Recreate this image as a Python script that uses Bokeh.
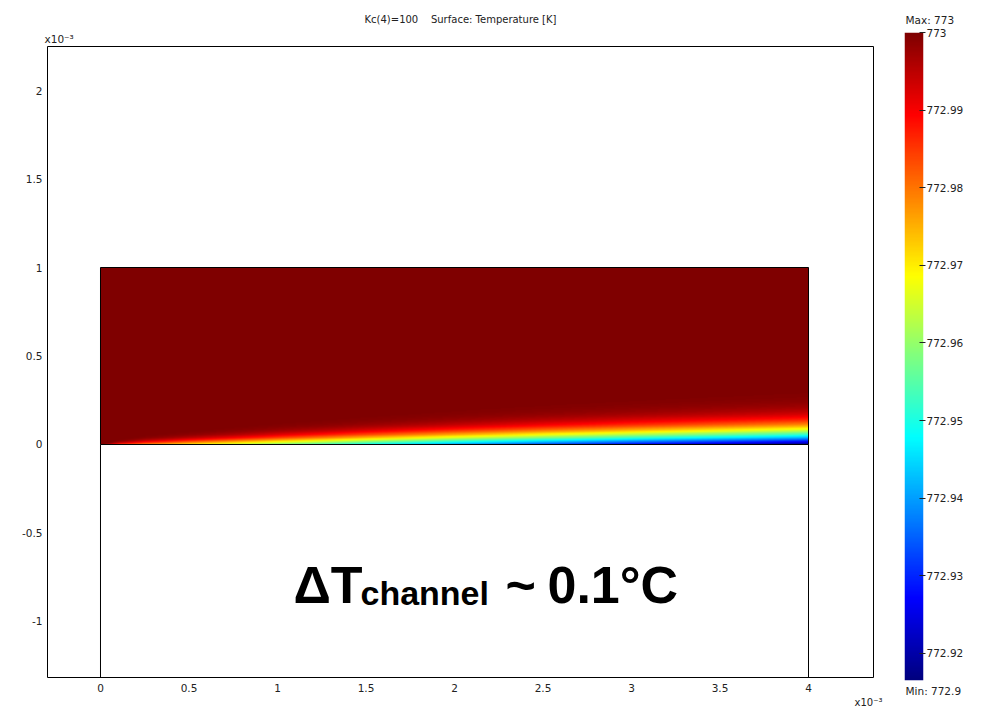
import math
import numpy as np
from bokeh.plotting import figure
from bokeh.layouts import row, column
from bokeh.models import (LinearColorMapper, FixedTicker, NumeralTickFormatter,
                          Range1d, Title)
from bokeh.core.properties import value
from bokeh.embed import file_html
from bokeh.resources import INLINE

# ---------------- data ----------------
title_text = "Kc(4)=100\u00a0\u00a0\u00a0\u00a0Surface: Temperature [K]"
multiplier_text = "x10\u207b\u00b3"
x_ticks = [0, 0.5, 1, 1.5, 2, 2.5, 3, 3.5, 4]
y_ticks = [-1, -0.5, 0, 0.5, 1, 1.5, 2]
cbar_ticks = [772.92, 772.93, 772.94, 772.95, 772.96, 772.97, 772.98, 772.99, 773.0]
t_max = 773.0
t_min = 772.9165          # shown rounded as "Min: 772.9"
max_label = "Max: 773"
min_label = "Min: 772.9"

# channel geometry (x10^-3 m)
channel_x0 = 0.0
channel_x1 = 4.0
channel_y0 = 0.0
channel_y1 = 1.0
lower_domain_bottom = -2.0

# temperature field read along the channel: wall temperature and thermal layer scale
x_st = [0.0, 0.1, 0.25, 0.5, 1.0, 1.5, 2.0, 2.5, 3.0, 3.5, 4.0]
t_wall = [773.0, 772.985, 772.978, 772.970, 772.958, 772.948, 772.940, 772.933, 772.927, 772.922, 772.917]
delta = [0.0, 0.015, 0.027, 0.039, 0.060, 0.078, 0.094, 0.108, 0.120, 0.131, 0.141]

# ---------------- palette (jet) ----------------
def jet_palette(n=256):
    cols = []
    for i in range(n):
        v = i / (n - 1)
        r = min(max(min(4 * v - 1.5, -4 * v + 4.5), 0), 1)
        g = min(max(min(4 * v - 0.5, -4 * v + 3.5), 0), 1)
        b = min(max(min(4 * v + 0.5, -4 * v + 2.5), 0), 1)
        cols.append("#%02x%02x%02x" % (int(r * 255), int(g * 255), int(b * 255)))
    return cols

mapper = LinearColorMapper(palette=jet_palette(), low=t_min, high=t_max)

# ---------------- field table ----------------
nx, ny = 800, 600
xc = np.linspace(channel_x0, channel_x1, nx)
yc = np.linspace(channel_y0, channel_y1, ny)
tw = np.interp(xc, x_st, t_wall)
dl = np.maximum(np.interp(xc, x_st, delta), 1e-6)
eta = yc[:, None] / dl[None, :]
erf = np.vectorize(math.erf)
field = tw[None, :] + (t_max - tw[None, :]) * erf(eta)

FONT = "DejaVu Sans"
TXT = "#222222"

def small_title(text, align, standoff, offset=0, size="10.5px"):
    return Title(text=text, align=align, standoff=standoff, offset=offset,
                 text_font=FONT, text_font_size=size, text_font_style="normal",
                 text_color=TXT)

# ---------------- main figure ----------------
p = figure(width=890, height=707,
           x_range=Range1d(-0.2994, 4.3672), y_range=Range1d(-1.3164, 2.2486),
           title_location=None,
           output_backend="svg", toolbar_location=None,
           min_border_left=47, min_border_right=17, min_border_top=46, min_border_bottom=30)
p.background_fill_color = "white"
p.border_fill_color = "white"
p.outline_line_color = "black"
p.outline_line_width = 1
p.xgrid.visible = False
p.ygrid.visible = False

# titles above: the first added sits next to the frame
p.add_layout(small_title(multiplier_text, "left", 3, offset=-3), "above")
p.add_layout(small_title(title_text, "center", 10, size="10px"), "above")

for ax in (p.xaxis[0], p.yaxis[0]):
    ax.axis_line_color = None
    ax.major_tick_line_color = None
    ax.minor_tick_line_color = None
    ax.major_tick_out = 0
    ax.major_tick_in = 0
    ax.major_label_text_font = FONT
    ax.major_label_text_font_size = "10.5px"
    ax.major_label_text_color = TXT
    ax.formatter = NumeralTickFormatter(format="0.[0]")
p.xaxis.ticker = FixedTicker(ticks=x_ticks)
p.yaxis.ticker = FixedTicker(ticks=y_ticks)
p.xaxis.major_label_standoff = 6
p.yaxis.major_label_standoff = 5

p.add_layout(small_title(multiplier_text, "right", 0, offset=-9, size="10px"), "below")

p.image(image=[field], x=channel_x0, y=channel_y0,
        dw=channel_x1 - channel_x0, dh=channel_y1 - channel_y0, color_mapper=mapper)
p.quad(left=[channel_x0], right=[channel_x1], bottom=[channel_y0], top=[channel_y1],
       fill_color=None, line_color="black", line_width=1)
p.segment(x0=[channel_x0, channel_x1], y0=[channel_y0, channel_y0],
          x1=[channel_x0, channel_x1], y1=[lower_domain_bottom, lower_domain_bottom],
          line_color="black", line_width=1)

# big annotation
bold = dict(text_font=value("Liberation Sans"), text_font_style="bold",
            text_color="black", text_baseline="middle", text_align="left")
p.text(x=[1.0904], y=[-0.7966], text=["\u0394T"], text_font_size="52px", **bold)
p.text(x=[1.4689], y=[-0.8418], text=["channel"], text_font_size="34px", **bold)
p.text(x=[2.2881], y=[-0.7966], text=["~"], text_font_size="52px", **bold)
p.text(x=[2.5254], y=[-0.7966], text=["0.1\u00b0C"], text_font_size="52px", **bold)

# ---------------- colorbar figure ----------------
c = figure(width=95, height=707,
           x_range=Range1d(0, 1), y_range=Range1d(t_min, t_max),
           y_axis_location="right", x_axis_location=None, title_location=None,
           output_backend="svg", toolbar_location=None,
           min_border_left=14, min_border_right=62, min_border_top=32, min_border_bottom=27)
c.background_fill_color = "white"
c.border_fill_color = "white"
c.outline_line_color = None
c.xgrid.visible = False
c.ygrid.visible = False
grad = np.linspace(t_min, t_max, 512).reshape(512, 1)
c.image(image=[grad], x=0, y=t_min, dw=1, dh=t_max - t_min, color_mapper=mapper)
ya = c.yaxis[0]
ya.ticker = FixedTicker(ticks=cbar_ticks)
ya.formatter = NumeralTickFormatter(format="0.[00]")
ya.axis_line_color = None
ya.minor_tick_line_color = None
ya.major_tick_line_color = "#222222"
ya.major_tick_in = 4
ya.major_tick_out = 2
ya.major_label_standoff = 1
ya.major_label_text_font = FONT
ya.major_label_text_font_size = "10.5px"
ya.major_label_text_color = TXT

c.add_layout(small_title(max_label, "left", 13, offset=1), "above")
c.add_layout(small_title(min_label, "left", 4, offset=1), "below")

layout = row(p, column(c))
open("out.html", "w").write(file_html(layout, INLINE))
